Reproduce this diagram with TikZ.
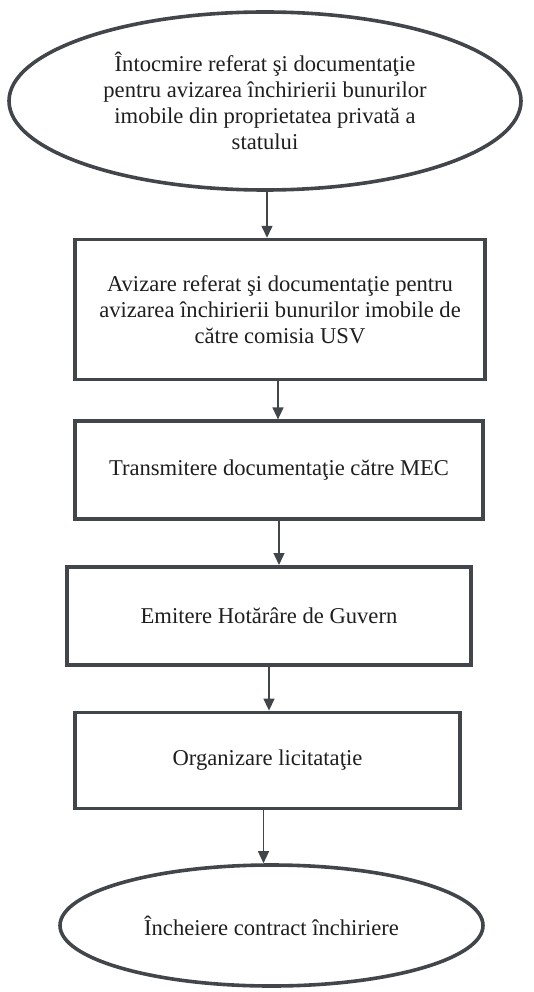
\documentclass[tikz,border=0pt]{standalone}
\usepackage{fontspec}
\setmainfont{Liberation Serif}
\usetikzlibrary{positioning,shapes.geometric,arrows.meta}

\definecolor{edgegray}{RGB}{66,70,74}
\definecolor{textgray}{RGB}{30,30,30}

\begin{document}
\begin{tikzpicture}[
    font=\fontsize{22.6}{25.8}\selectfont,
    base/.style={draw=edgegray,line width=3.6pt,text=textgray,align=center,inner sep=0pt},
    terminal/.style={base,ellipse},
    stepbox/.style={base,rectangle},
    flow/.style={draw=edgegray,line width=1.4pt,-{Triangle[length=12pt,width=11pt]}}
  ]
  \useasboundingbox (0,0) rectangle (534pt,-992pt);

  \node(e1) [terminal,minimum width=512pt,minimum height=178pt] at (265pt,-101pt)
    {Întocmire referat şi documentaţie\\pentru avizarea închirierii bunurilor\\imobile din proprietatea privată a\\statului};

  \node(b1) [stepbox,minimum width=410pt,minimum height=140pt,below=46pt of e1,xshift=15pt]
    {Avizare referat şi documentaţie pentru\\avizarea închirierii bunurilor imobile de\\către comisia USV};

  \node(b2) [stepbox,minimum width=408pt,minimum height=98pt,below=38pt of b1,xshift=-1pt]
    {Transmitere documentaţie către MEC};

  \node(b3) [stepbox,minimum width=404pt,minimum height=98pt,below=44pt of b2,xshift=-10pt]
    {Emitere Hotărâre de Guvern};

  \node(b4) [stepbox,minimum width=385pt,minimum height=96pt,below=44pt of b3,xshift=-1.5pt]
    {Organizare licitataţie};

  \node(e2) [terminal,minimum width=423pt,minimum height=121pt,below=53pt of b4,xshift=4pt]
    {Încheiere contract închiriere};

  \draw[flow] ([xshift=2pt]e1.south) -- ([xshift=2pt]e1.south |- b1.north);
  \draw[flow] ([xshift=-2pt]b1.south) -- ([xshift=-2pt]b1.south |- b2.north);
  \draw[flow] (b2.south) -- (b2.south |- b3.north);
  \draw[flow] (b3.south) -- (b3.south |- b4.north);
  \draw[flow] ([xshift=-4pt]b4.south) -- ([xshift=-4pt]b4.south |- e2.north);

\end{tikzpicture}
\end{document}
